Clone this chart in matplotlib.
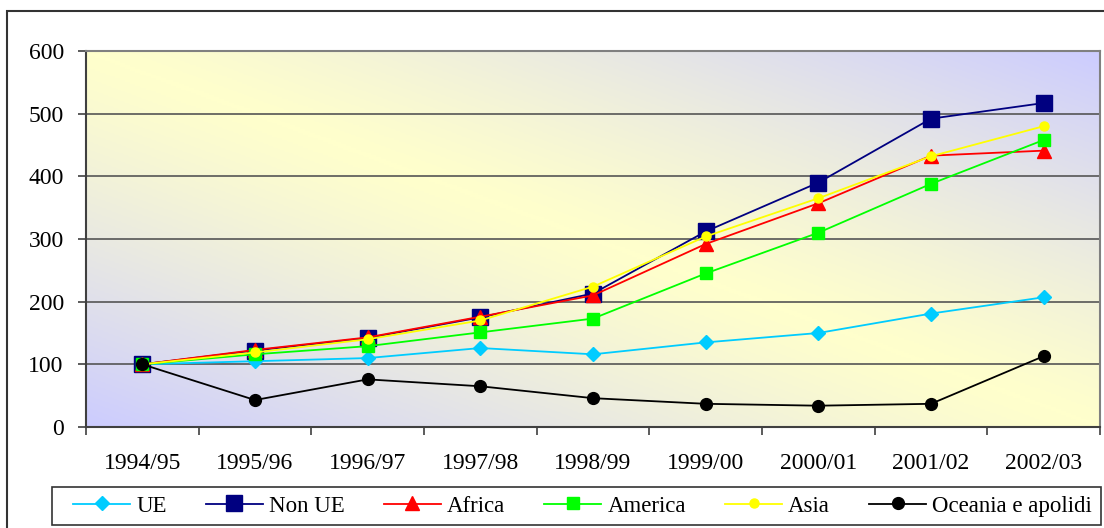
import numpy as np
import matplotlib
matplotlib.use('Agg')
import matplotlib.pyplot as plt
from matplotlib.colors import LinearSegmentedColormap
from matplotlib.patches import Rectangle

plt.rcParams['font.family'] = ['Liberation Serif', 'DejaVu Serif']

anni = ['1994/95', '1995/96', '1996/97', '1997/98', '1998/99',
        '1999/00', '2000/01', '2001/02', '2002/03']

ue = [100, 105, 110, 126, 116, 135, 150, 181, 207]
non_ue = [100, 122, 142, 175, 213, 312, 390, 492, 517]
africa = [100, 123, 143, 176, 210, 292, 357, 433, 441]
america = [100, 116, 129, 151, 173, 245, 310, 388, 458]
asia = [100, 119, 140, 170, 224, 304, 365, 432, 480]
oceania = [100, 43, 76, 65, 46, 37, 34, 37, 113]

serie = [
    ('UE', ue, '#00CCFF', 'D', 7, 1.3),
    ('Non UE', non_ue, '#000080', 's', 11.5, 1.3),
    ('Africa', africa, '#FF0000', '^', 10, 1.3),
    ('America', america, '#00FF00', 's', 8.5, 1.3),
    ('Asia', asia, '#FFFF00', 'o', 6.5, 1.3),
    ('Oceania e apolidi', oceania, '#000000', 'o', 8.5, 1.3),
]

W, H = 1104, 528
fig = plt.figure(figsize=(W / 100, H / 100), dpi=100)
fig.patch.set_facecolor('white')

# cornice esterna (tagliata a destra e in basso)
fig.patches.append(Rectangle((7 / W, -0.05), 1.2, 1 - 11 / H + 0.05,
                             transform=fig.transFigure, fill=False,
                             edgecolor='#333333', linewidth=1.5))

ax = fig.add_axes([86 / W, 1 - 427 / H, (1100 - 86) / W, (427 - 51) / H])

# sfondo sfumato: lavanda negli angoli in basso a sx e in alto a dx
gx, gy = np.meshgrid(np.linspace(0, 1, 400), np.linspace(0, 1, 200))
d = np.abs(gx + gy - 1) ** 1.2
cmap = LinearSegmentedColormap.from_list('bg', ['#FFFFCC', '#CCCCFF'])
ax.imshow(d, cmap=cmap, origin='lower', extent=[0, 1, 0, 1],
          transform=ax.transAxes, aspect='auto', zorder=0, vmin=0, vmax=1)

x = np.arange(len(anni))
for nome, valori, col, mk, ms, lw in serie:
    ax.plot(x, valori, color=col, marker=mk, markersize=ms, linewidth=lw,
            markeredgecolor=col, label=nome, zorder=3)

ax.set_xlim(-0.5, len(anni) - 0.5)
ax.set_ylim(0, 600)
ax.set_yticks(range(0, 601, 100))
ax.grid(axis='y', color='#555555', linewidth=1.2, zorder=1)
ax.set_axisbelow(True)

ax.set_xticks(np.arange(-0.5, len(anni), 1))
ax.set_xticklabels([])
ax.set_xticks(x, minor=True)
ax.set_xticklabels(anni, minor=True)
ax.tick_params(axis='x', which='major', length=6, width=1.2, color='#404040', direction='out')
ax.tick_params(axis='x', which='minor', length=0, pad=19, labelsize=17)
ax.tick_params(axis='y', length=6, width=1.2, color='#404040', pad=10, labelsize=17)

for s in ['left', 'bottom']:
    ax.spines[s].set_color('#404040')
    ax.spines[s].set_linewidth(1.5)
for s in ['top', 'right']:
    ax.spines[s].set_color('#808080')
    ax.spines[s].set_linewidth(1.5)

# riquadro della legenda
fig.patches.append(Rectangle((52 / W, 1 - 525 / H), (1101 - 52) / W, 38 / H,
                             transform=fig.transFigure, fill=False,
                             edgecolor='#333333', linewidth=1.2))
fig.legend(loc='center', ncol=6, mode='expand',
           bbox_to_anchor=(73 / W, 1 - 525 / H, (1092 - 73) / W, 38 / H),
           fontsize=16.5, frameon=False, borderaxespad=0, borderpad=0,
           handlelength=2.5, handletextpad=0.26, columnspacing=0.8)

fig.savefig('out.png', dpi=100)
